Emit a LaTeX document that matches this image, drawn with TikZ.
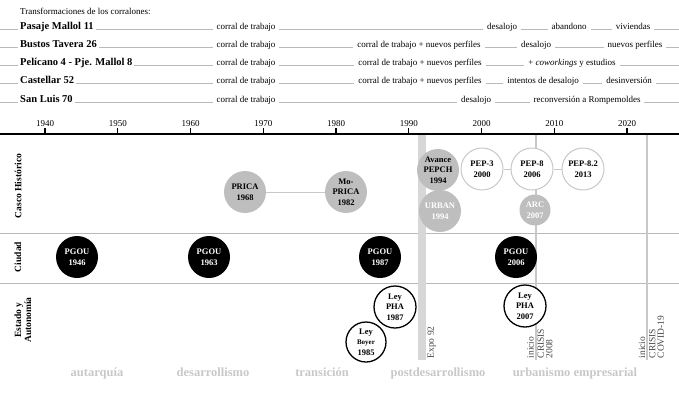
\documentclass[tikz,border=0pt]{standalone}
\usepackage{fontspec}
\setmainfont{Liberation Serif}

\definecolor{lineagris}{RGB}{185,185,185}
\definecolor{circgris}{RGB}{190,190,190}
\definecolor{bordegris}{RGB}{200,200,200}
\definecolor{expogris}{RGB}{215,215,215}
\definecolor{eragris}{RGB}{200,200,200}
\definecolor{textogris}{RGB}{70,70,70}

\tikzset{
  fila/.style={draw=lineagris, line width=0.8pt},
  nombre/.style={fill=white, anchor=base west, inner xsep=2pt, inner ysep=1.5pt, font=\fontsize{10.5}{12}\selectfont\bfseries},
  fase/.style={fill=white, anchor=base, inner xsep=4pt, inner ysep=1.5pt, font=\fontsize{9}{10}\selectfont},
  eje/.style={line width=1.6pt},
  marca/.style={line width=1.2pt},
  anio/.style={anchor=south, inner sep=0pt, font=\fontsize{9}{10}\selectfont},
  divisor/.style={draw=lineagris, line width=0.8pt},
  hito/.style={circle, minimum size=42pt, inner sep=0pt, align=center, font=\fontsize{8.5}{10.5}\selectfont\bfseries},
  casco/.style={hito, fill=circgris},
  cascob/.style={casco, text=white},
  pep/.style={hito, fill=white, draw=bordegris, line width=1pt},
  pgou/.style={hito, fill=black, text=white},
  ley/.style={hito, fill=white, draw=black, line width=1.3pt},
  enlace/.style={draw=bordegris, line width=1pt},
  crisis/.style={draw=bordegris, line width=1.6pt},
  lado/.style={rotate=90, align=center, font=\fontsize{9.5}{10}\selectfont\bfseries},
  etiqvert/.style={rotate=90, inner sep=0.5pt, align=left, text=textogris, font=\fontsize{9.5}{8.5}\selectfont},
  era/.style={anchor=base, text=eragris, font=\fontsize{12.5}{14}\selectfont\bfseries},
}

\begin{document}
\begin{tikzpicture}[x=1pt,y=-1pt]
\useasboundingbox (0,0) rectangle (679,400);

\node[fase, anchor=base west, inner xsep=2pt] (titulo) at (18,14) {Transformaciones de los corralones:};

\coordinate (f1w) at (0,29.5);
\coordinate (f1e) at (679,29.5);
\coordinate (f2w) at (0,47.5);
\coordinate (f2e) at (679,47.5);
\coordinate (f3w) at (0,65.5);
\coordinate (f3e) at (679,65.5);
\coordinate (f4w) at (0,83.5);
\coordinate (f4e) at (679,83.5);
\coordinate (f5w) at (0,102.5);
\coordinate (f5e) at (679,102.5);
\draw[fila] (f1w) -- (f1e);
\draw[fila] (f2w) -- (f2e);
\draw[fila] (f3w) -- (f3e);
\draw[fila] (f4w) -- (f4e);
\draw[fila, line width=1.4pt] (f5w) -- (f5e);

\node[nombre] (pasaje) at (18,29.5) {Pasaje Mallol 11};
\node[fase] (pasajeA) at (246,29.5) {corral de trabajo};
\node[fase] (pasajeB) at (502,29.5) {desalojo};
\node[fase] (pasajeC) at (569,29.5) {abandono};
\node[fase] (pasajeD) at (633,29.5) {viviendas};

\node[nombre] (bustos) at (18,47.5) {Bustos Tavera 26};
\node[fase] (bustosA) at (246,47.5) {corral de trabajo};
\node[fase] (bustosB) at (419,47.5) {corral de trabajo + nuevos perfiles};
\node[fase] (bustosC) at (536,47.5) {desalojo};
\node[fase] (bustosD) at (635,47.5) {nuevos perfiles};

\node[nombre] (pelicano) at (18,65.5) {Pelícano 4 - Pje. Mallol 8};
\node[fase] (pelicanoA) at (246,65.5) {corral de trabajo};
\node[fase] (pelicanoB) at (420,65.5) {corral de trabajo + nuevos perfiles};
\node[fase] (pelicanoC) at (572,65.5) {+ \textit{coworkings} y estudios};

\node[nombre] (castellar) at (18,83.5) {Castellar 52};
\node[fase] (castellarA) at (246,83.5) {corral de trabajo};
\node[fase] (castellarB) at (420,83.5) {corral de trabajo + nuevos perfiles};
\node[fase] (castellarC) at (543,83.5) {intentos de desalojo};
\node[fase] (castellarD) at (629,83.5) {desinversión};

\node[nombre] (sanluis) at (18,102.5) {San Luis 70};
\node[fase] (sanluisA) at (246,102.5) {corral de trabajo};
\node[fase] (sanluisB) at (476,102.5) {desalojo};
\node[fase] (sanluisC) at (587,102.5) {reconversión a Rompemoldes};

\draw[divisor] (0,233) -- (679,233);
\draw[divisor] (0,283) -- (679,283);
\fill[expogris] (418,134) rectangle (426,360);
\draw[crisis] (535.7,134) -- (535.7,360);
\draw[crisis] (647,134) -- (647,360);

\draw[eje] (0,134) -- (679,134);
\foreach \i in {0,...,8}{
  \pgfmathsetmacro{\xx}{45+72.75*\i}
  \pgfmathtruncatemacro{\yr}{1940+10*\i}
  \draw[marca] (\xx,128) -- (\xx,134);
  \node[anio] (a\yr) at (\xx,126.5) {\yr};
}

\node[lado] (casco) at (18,186) {Casco Histórico};
\node[lado] (ciudad) at (18,257) {Ciudad};
\node[lado] (estado) at (23,320) {Estado y\\Autonomía};

\node[casco] (prica) at (245,192) {PRICA\\1968};
\node[casco] (moprica) at (346,192) {Mo-\\PRICA\\1982};
\node[casco] (avance) at (438,170) {Avance\\PEPCH\\1994};
\node[cascob] (urban) at (440,211) {URBAN\\1994};
\node[pep] (pep3) at (482,169) {PEP-3\\2000};
\node[pep] (pep8) at (532,169) {PEP-8\\2006};
\node[pep] (pep82) at (583,169) {PEP-8.2\\2013};
\node[cascob, minimum size=31pt] (arc) at (535,210) {ARC\\2007};
\draw[enlace] (prica) -- (moprica);
\draw[enlace] (pep3) -- (pep8);
\draw[enlace] (pep8) -- (pep82);

\node[pgou] (pgou46) at (77,257) {PGOU\\1946};
\node[pgou] (pgou63) at (209,257) {PGOU\\1963};
\node[pgou] (pgou87) at (380,257) {PGOU\\1987};
\node[pgou] (pgou06) at (516,257) {PGOU\\2006};

\node[ley, minimum size=40pt] (boyer) at (366,342) {Ley\\{\fontsize{7}{8}\selectfont Boyer}\\1985};
\node[ley] (pha87) at (395,307) {Ley\\PHA\\1987};
\node[ley] (pha07) at (525,306) {Ley\\PHA\\2007};

\node[etiqvert, anchor=north west] (expo) at (427,359) {Expo 92};
\node[etiqvert, anchor=south west] (inicio08) at (534.5,359) {inicio};
\node[etiqvert, anchor=north west] (crisis08) at (537,359) {CRISIS\\2008};
\node[etiqvert, anchor=south west] (inicio19) at (645.8,359) {inicio};
\node[etiqvert, anchor=north west] (crisis19) at (648.3,359) {CRISIS\\COVID-19};

\node[era] (autarquia) at (97,376) {autarquía};
\node[era] (desarrollismo) at (213,376) {desarrollismo};
\node[era] (transicion) at (322,376) {transición};
\node[era] (postdes) at (438,376) {postdesarrollismo};
\node[era] (urbanismo) at (575,376) {urbanismo empresarial};
\end{tikzpicture}
\end{document}
